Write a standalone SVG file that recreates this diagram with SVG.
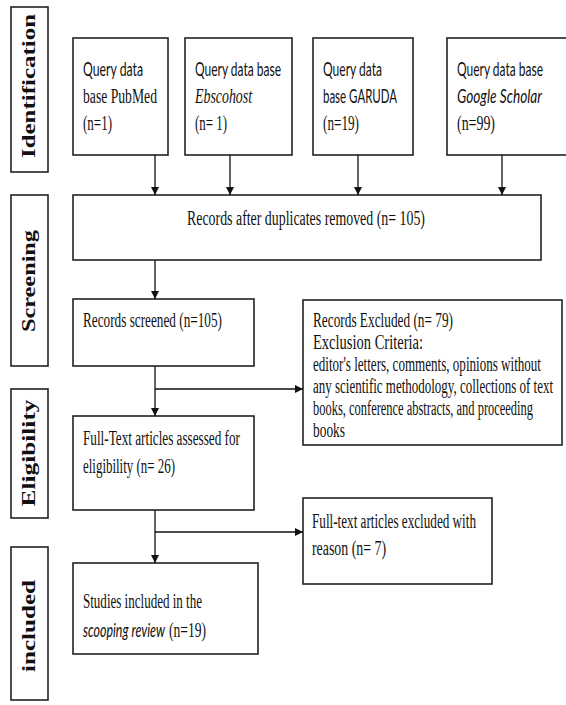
<svg xmlns="http://www.w3.org/2000/svg" width="566" height="705" viewBox="0 0 566 705">
<style>
.box{fill:#fff;stroke:#222;stroke-width:1.6}
.stage{fill:#fff;stroke:#222;stroke-width:1.6}
.sl{font-family:"Liberation Serif",serif;font-weight:bold;font-size:19px;fill:#111}
.t{font-family:"Liberation Serif",serif;font-size:20px;fill:#111}
.s{font-family:Lato,"Liberation Sans",sans-serif;font-size:19px;fill:#111}
.i{font-style:italic}
.c{fill:none;stroke:#111;stroke-width:1.3}
</style>
<defs>
<marker id="ah" viewBox="0 0 10 10" refX="10" refY="5" markerWidth="8" markerHeight="9" markerUnits="userSpaceOnUse" orient="auto">
<path d="M0,0 L10,5 L0,10 Z" fill="#111"/>
</marker>
</defs>
<rect width="566" height="705" fill="#fff"/>

<g id="stage-identification">
<rect class="stage" x="11" y="7" width="37" height="165"/>
<text class="sl" x="35" y="86" text-anchor="middle" textLength="144" lengthAdjust="spacingAndGlyphs" transform="rotate(-90 35 86)">Identification</text>
</g>
<g id="stage-screening">
<rect class="stage" x="11" y="195" width="37" height="171"/>
<text class="sl" x="35" y="281" text-anchor="middle" textLength="102" lengthAdjust="spacingAndGlyphs" transform="rotate(-90 35 281)">Screening</text>
</g>
<g id="stage-eligibility">
<rect class="stage" x="11" y="389" width="37" height="129"/>
<text class="sl" x="35" y="453" text-anchor="middle" textLength="107" lengthAdjust="spacingAndGlyphs" transform="rotate(-90 35 453)">Eligibility</text>
</g>
<g id="stage-included">
<rect class="stage" x="11" y="547" width="37" height="153"/>
<text class="sl" x="35" y="626" text-anchor="middle" textLength="92" lengthAdjust="spacingAndGlyphs" transform="rotate(-90 35 626)">included</text>
</g>

<g id="node-pubmed">
<rect class="box" x="73" y="38" width="95" height="117"/>
<text class="s" x="83" y="76" textLength="60" lengthAdjust="spacingAndGlyphs">Query data</text>
<text class="t" x="83" y="103" textLength="74" lengthAdjust="spacingAndGlyphs">base PubMed</text>
<text class="t" x="83" y="130" textLength="29" lengthAdjust="spacingAndGlyphs">(n=1)</text>
</g>
<g id="node-ebscohost">
<rect class="box" x="185" y="38" width="107" height="117"/>
<text class="s" x="195" y="76" textLength="86" lengthAdjust="spacingAndGlyphs">Query data base</text>
<text class="t i" x="195" y="103" textLength="57" lengthAdjust="spacingAndGlyphs">Ebscohost</text>
<text class="t" x="195" y="130" textLength="32" lengthAdjust="spacingAndGlyphs">(n= 1)</text>
</g>
<g id="node-garuda">
<rect class="box" x="313" y="38" width="100" height="117"/>
<text class="s" x="323" y="76" textLength="59" lengthAdjust="spacingAndGlyphs">Query data</text>
<text class="s" x="323" y="103" textLength="74" lengthAdjust="spacingAndGlyphs">base GARUDA</text>
<text class="t" x="323" y="130" textLength="36" lengthAdjust="spacingAndGlyphs">(n=19)</text>
</g>
<g id="node-google">
<rect class="box" x="447" y="38" width="125" height="117"/>
<text class="s" x="457" y="76" textLength="86" lengthAdjust="spacingAndGlyphs">Query data base</text>
<text class="s i" x="457" y="103" textLength="85" lengthAdjust="spacingAndGlyphs">Google Scholar</text>
<text class="t" x="457" y="130" textLength="38" lengthAdjust="spacingAndGlyphs">(n=99)</text>
</g>

<g id="node-duplicates">
<rect class="box" x="73" y="195" width="468" height="65"/>
<text class="t" x="187" y="225" textLength="238" lengthAdjust="spacingAndGlyphs">Records after duplicates removed  (n= 105)</text>
</g>
<g id="node-screened">
<rect class="box" x="73" y="299" width="181" height="67"/>
<text class="t" x="83" y="327" textLength="139" lengthAdjust="spacingAndGlyphs">Records screened (n=105)</text>
</g>
<g id="node-excluded">
<rect class="box" x="303" y="300" width="259" height="145"/>
<text class="t" x="313" y="327" textLength="140" lengthAdjust="spacingAndGlyphs">Records Excluded (n= 79)</text>
<text class="t" x="313" y="349" textLength="110" lengthAdjust="spacingAndGlyphs">Exclusion Criteria:</text>
<text class="t" x="313" y="371" textLength="228" lengthAdjust="spacingAndGlyphs">editor's letters, comments, opinions without</text>
<text class="t" x="313" y="393" textLength="240" lengthAdjust="spacingAndGlyphs">any scientific methodology, collections of text</text>
<text class="t" x="313" y="415" textLength="220" lengthAdjust="spacingAndGlyphs">books, conference abstracts, and proceeding</text>
<text class="t" x="313" y="437" textLength="32" lengthAdjust="spacingAndGlyphs">books</text>
</g>
<g id="node-fulltext">
<rect class="box" x="73" y="416" width="181" height="94"/>
<text class="t" x="83" y="445" textLength="157" lengthAdjust="spacingAndGlyphs">Full-Text articles assessed for</text>
<text class="t" x="83" y="473" textLength="92" lengthAdjust="spacingAndGlyphs">eligibility (n= 26)</text>
</g>
<g id="node-fulltext-excluded">
<rect class="box" x="303" y="498" width="189" height="86"/>
<text class="t" x="312" y="528" textLength="164" lengthAdjust="spacingAndGlyphs">Full-text articles excluded with</text>
<text class="t" x="312" y="555" textLength="74" lengthAdjust="spacingAndGlyphs">reason  (n= 7)</text>
</g>
<g id="node-included">
<rect class="box" x="73" y="563" width="185" height="91"/>
<text class="t" x="83" y="608" textLength="119" lengthAdjust="spacingAndGlyphs">Studies included in the</text>
<text class="s i" x="83" y="637" textLength="82" lengthAdjust="spacingAndGlyphs">scooping review</text>
<text class="t" x="169" y="637" textLength="37" lengthAdjust="spacingAndGlyphs">(n=19)</text>
</g>

<g id="connectors">
<line class="c" x1="155" y1="155" x2="155" y2="195" marker-end="url(#ah)"/>
<line class="c" x1="230" y1="155" x2="230" y2="195" marker-end="url(#ah)"/>
<line class="c" x1="358" y1="155" x2="358" y2="195" marker-end="url(#ah)"/>
<line class="c" x1="502" y1="155" x2="502" y2="195" marker-end="url(#ah)"/>
<line class="c" x1="155" y1="260" x2="155" y2="299" marker-end="url(#ah)"/>
<line class="c" x1="155" y1="366" x2="155" y2="416" marker-end="url(#ah)"/>
<line class="c" x1="155" y1="389" x2="303" y2="389" marker-end="url(#ah)"/>
<line class="c" x1="155" y1="510" x2="155" y2="563" marker-end="url(#ah)"/>
<line class="c" x1="155" y1="532" x2="303" y2="532" marker-end="url(#ah)"/>
</g>
</svg>
